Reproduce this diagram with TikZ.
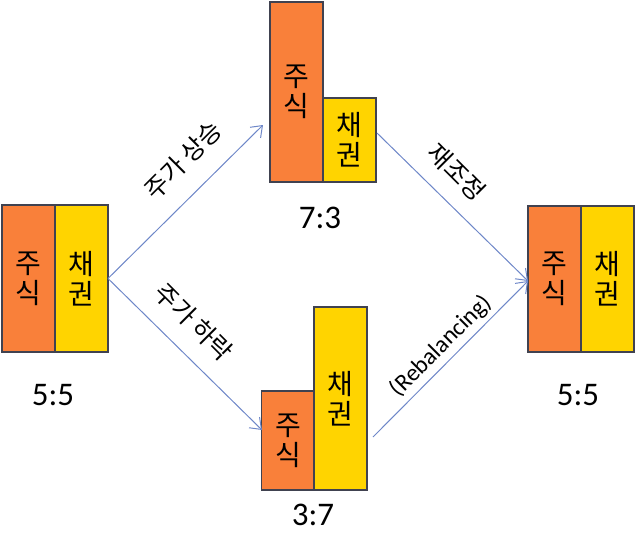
\documentclass[tikz,border=0pt]{standalone}
\usepackage{fontspec}
\setmainfont{Carlito}
\newfontfamily\kr{Noto Sans CJK KR}
\usetikzlibrary{arrows.meta}
\definecolor{orbox}{RGB}{249,128,58}
\definecolor{yebox}{RGB}{255,212,0}
\definecolor{edge}{RGB}{64,66,80}
\definecolor{arr}{RGB}{110,135,200}
\begin{document}
\begin{tikzpicture}[x=1pt,y=-1pt,
  bar/.style={draw=edge, line width=1.5pt, inner sep=0pt, outer sep=0pt,
    minimum width=53pt, align=center, font=\kr\fontsize{28}{30}\selectfont},
  stock/.style={bar, fill=orbox},
  bond/.style={bar, fill=yebox},
  ratio/.style={font=\fontsize{33}{36}\selectfont, inner sep=0pt},
  lab/.style={font=\kr\fontsize{25}{28}\selectfont, inner sep=0pt},
  elab/.style={font=\fontsize{24}{26}\selectfont, inner sep=0pt},
  conn/.style={draw=arr, line width=1pt, -{Straight Barb[length=10pt,width=15pt]}}]
\useasboundingbox (0,0) rectangle (636,543);
% left pair
\node[stock, minimum height=147pt] (Lo) at (28.5,278.5) {주\\식};
\node[bond, minimum height=147pt] (Ly) at (81.5,278.5) {채\\권};
\node[ratio] (Lr) at (53,395) {5:5};
% top pair
\node[stock, minimum height=180pt] (To) at (296.5,92) {주\\식};
\node[bond, minimum height=84pt] (Ty) at (349.5,140) {채\\권};
\node[ratio] (Tr) at (320,218) {7:3};
% bottom pair
\node[stock, minimum height=99pt] (Bo) at (288,440.5) {주\\식};
\node[bond, minimum height=183pt] (By) at (340.5,398.5) {채\\권};
\node[ratio] (Br) at (313,515) {3:7};
% right pair
\node[stock, minimum height=146pt] (Ro) at (554.5,279) {주\\식};
\node[bond, minimum height=146pt] (Ry) at (607.5,279) {채\\권};
\node[ratio] (Rr) at (578,395) {5:5};
% arrow ends
\coordinate (t1) at (263,125);
\coordinate (t2) at (262,430);
\coordinate (s3) at (377,133);
\coordinate (s4) at (373,437);
\coordinate (t3) at (528,281);
\draw[conn] (Ly.east) -- (t1);
\draw[conn] (Ly.east) -- (t2);
\draw[conn] (s3) -- (t3);
\draw[conn] (s4) -- (t3);
% labels
\node[lab, rotate=45] (l1) at (183,160) {주가 상승};
\node[lab, rotate=-45] (l2) at (194,322) {주가 하락};
\node[lab, rotate=-45] (l3) at (457,172) {재조정};
\node[elab, rotate=45] (l4) at (441,346) {(Rebalancing)};
\end{tikzpicture}
\end{document}
